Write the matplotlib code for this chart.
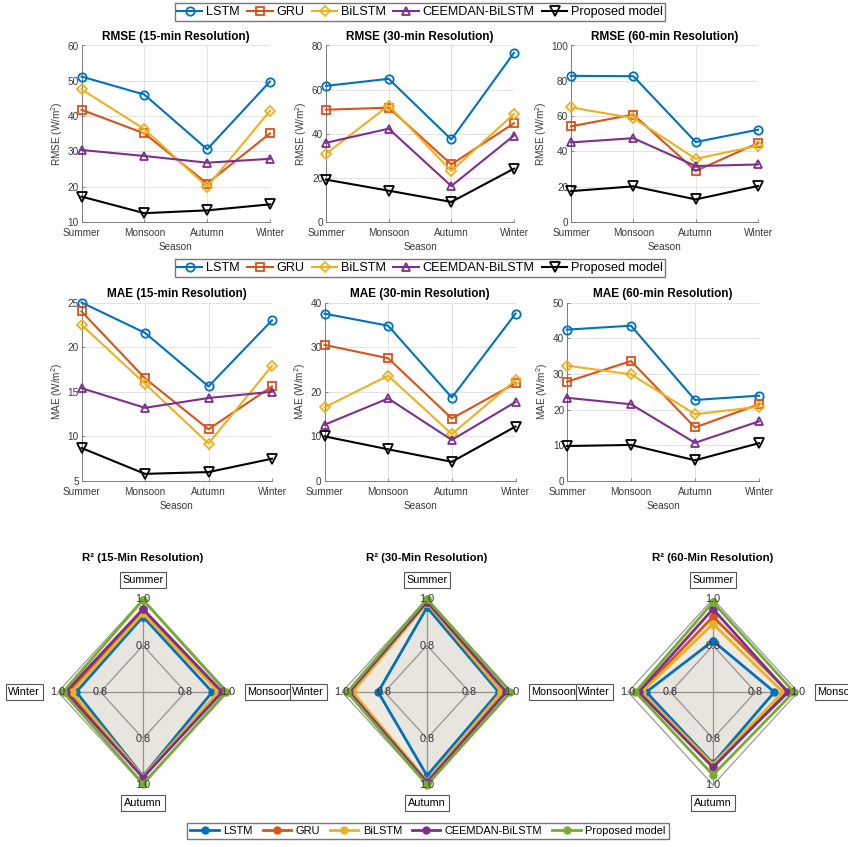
import numpy as np
import matplotlib.pyplot as plt
from matplotlib.lines import Line2D

plt.rcParams['font.family'] = ['Liberation Sans', 'DejaVu Sans']
plt.rcParams['mathtext.default'] = 'regular'

seasons = ['Summer', 'Monsoon', 'Autumn', 'Winter']
models = ['LSTM', 'GRU', 'BiLSTM', 'CEEMDAN-BiLSTM', 'Proposed model']

# rows follow the order of `models`, columns the order of `seasons`
rmse_15 = [[51.2, 46.1, 30.6, 49.8],
           [41.8, 35.1, 20.9, 35.1],
           [47.6, 36.3, 20.0, 41.5],
           [30.4, 28.7, 26.8, 27.9],
           [17.2, 12.5, 13.3, 15.0]]
rmse_30 = [[61.7, 64.9, 37.4, 76.7],
           [50.9, 51.8, 26.1, 44.8],
           [30.9, 52.8, 23.1, 49.0],
           [35.9, 42.3, 16.3, 39.2],
           [19.2, 14.2, 9.1, 24.2]]
rmse_60 = [[82.8, 82.6, 45.3, 52.3],
           [54.2, 60.9, 28.9, 44.7],
           [64.9, 58.9, 35.8, 43.2],
           [45.1, 47.5, 31.7, 32.6],
           [17.5, 20.2, 12.8, 20.4]]
mae_15 = [[25.0, 21.6, 15.6, 23.0],
          [24.0, 16.5, 10.8, 15.6],
          [22.5, 15.9, 9.2, 17.9],
          [15.4, 13.2, 14.3, 15.0],
          [8.7, 5.8, 6.0, 7.5]]
mae_30 = [[37.5, 34.8, 18.7, 37.5],
          [30.5, 27.5, 14.0, 21.9],
          [16.5, 23.6, 10.5, 22.6],
          [12.6, 18.5, 9.2, 17.7],
          [10.0, 7.1, 4.3, 12.2]]
mae_60 = [[42.4, 43.5, 22.7, 23.9],
          [27.8, 33.6, 15.0, 21.5],
          [32.3, 29.9, 18.7, 20.8],
          [23.3, 21.5, 10.7, 16.7],
          [9.8, 10.1, 5.8, 10.6]]

r2_15 = [[0.924, 0.926, 0.962, 0.914],
         [0.946, 0.960, 0.966, 0.953],
         [0.938, 0.953, 0.964, 0.936],
         [0.957, 0.973, 0.968, 0.964],
         [0.996, 0.992, 0.995, 0.976]]
r2_30 = [[0.964, 0.937, 0.960, 0.830],
         [0.985, 0.953, 0.985, 0.960],
         [0.982, 0.950, 0.982, 0.950],
         [0.988, 0.973, 0.988, 0.965],
         [1.000, 0.992, 1.000, 0.975]]
r2_60 = [[0.820, 0.889, 0.907, 0.914],
         [0.924, 0.956, 0.915, 0.940],
         [0.893, 0.929, 0.912, 0.935],
         [0.957, 0.951, 0.924, 0.950],
         [0.986, 0.980, 0.957, 0.965]]

line_colors = ['#0072BD', '#D95319', '#EDB120', '#7E2F8E', '#000000']
radar_colors = ['#0072BD', '#D95319', '#EDB120', '#7E2F8E', '#77AC30']
markers = ['o', 's', 'D', '^', 'v']
msizes = [6, 5.5, 5.5, 6, 6.5]

W, H = 848, 847
fig = plt.figure(figsize=(W / 100, H / 100), dpi=100)


def px_axes(x0, y0, x1, y1):
    return fig.add_axes([x0 / W, 1 - y1 / H, (x1 - x0) / W, (y1 - y0) / H])


def line_panel(box, data, title, ylabel, yticks):
    ax = px_axes(*box)
    x = np.arange(1, 5)
    for vals, c, m, ms in zip(data, line_colors, markers, msizes):
        ax.plot(x, vals, color=c, marker=m, ms=ms, mfc='none', mew=1.3, lw=1.5,
                clip_on=False, zorder=3)
    ax.set_xlim(1, 4)
    ax.set_ylim(yticks[0], yticks[-1])
    ax.set_xticks(x)
    ax.set_xticklabels(seasons)
    ax.set_yticks(yticks)
    ax.grid(True, color='#e3e3e3', lw=0.7)
    ax.set_axisbelow(True)
    for s in ['top', 'right']:
        ax.spines[s].set_visible(False)
    for s in ['left', 'bottom']:
        ax.spines[s].set_color('#7a7a7a')
        ax.spines[s].set_linewidth(0.7)
    ax.tick_params(direction='in', length=2.5, width=0.6, colors='#7a7a7a',
                   labelcolor='#3a3a3a', labelsize=7.2, pad=2)
    ax.tick_params(axis='x', pad=4.5)
    ax.set_title(title, fontsize=8.5, fontweight='bold', pad=4)
    ax.set_xlabel('Season', fontsize=7.2, color='#3a3a3a', labelpad=3)
    ax.set_ylabel(ylabel, fontsize=7.2, color='#3a3a3a', labelpad=2)
    return ax


rmse_label = 'RMSE (W/m$^2$)'
mae_label = 'MAE (W/m$^2$)'
line_panel((81.5, 45.5, 270, 222), rmse_15, 'RMSE (15-min Resolution)', rmse_label, [10, 20, 30, 40, 50, 60])
line_panel((326, 45.5, 514, 222), rmse_30, 'RMSE (30-min Resolution)', rmse_label, [0, 20, 40, 60, 80])
line_panel((571, 45.5, 758, 222), rmse_60, 'RMSE (60-min Resolution)', rmse_label, [0, 20, 40, 60, 80, 100])
line_panel((81.5, 302.5, 272, 481), mae_15, 'MAE (15-min Resolution)', mae_label, [5, 10, 15, 20, 25])
line_panel((324.5, 302.5, 515.5, 481), mae_30, 'MAE (30-min Resolution)', mae_label, [0, 10, 20, 30, 40])
line_panel((567, 302.5, 759, 481), mae_60, 'MAE (60-min Resolution)', mae_label, [0, 10, 20, 30, 40, 50])

line_handles = [Line2D([], [], color=c, marker=m, ms=ms, mfc='none', mew=1.3, lw=1.5)
                for c, m, ms in zip(line_colors, markers, msizes)]
for yc in (12, 268):
    fig.legend(line_handles, models, loc='center', bbox_to_anchor=(420 / W, 1 - yc / H),
               ncol=5, fontsize=9.1, frameon=True, fancybox=False, edgecolor='#555555',
               handlelength=2.0, handletextpad=0.3, columnspacing=0.6,
               borderpad=0.2, borderaxespad=0)

# spider panels: Summer up, Monsoon right, Autumn down, Winter left
dirs = np.array([[0, 1], [1, 0], [0, -1], [-1, 0]])
r_min, r_max = 0.6, 1.0
rx, ry = 85.0, 93.0
half = 140.0


def radar_panel(cx, data, title):
    cy = 692
    ax = px_axes(cx - half, cy - half, cx + half, cy + half)
    ax.set_xlim(-half / rx, half / rx)
    ax.set_ylim(-half / ry, half / ry)
    ax.axis('off')
    # grid diamonds and spokes
    for lev in (0.5, 1.0):
        gx = np.append(dirs[:, 0] * lev, dirs[0, 0] * lev)
        gy = np.append(dirs[:, 1] * lev, dirs[0, 1] * lev)
        ax.plot(gx, gy, color='#9a9a9a', lw=0.9, zorder=1)
    ax.plot([-1, 1], [0, 0], color='#9a9a9a', lw=0.9, zorder=1)
    ax.plot([0, 0], [-1, 1], color='#9a9a9a', lw=0.9, zorder=1)
    for vals, c in zip(data, radar_colors):
        r = (np.array(vals) - r_min) / (r_max - r_min)
        px = np.append(r * dirs[:, 0], r[0] * dirs[0, 0])
        py = np.append(r * dirs[:, 1], r[0] * dirs[0, 1])
        ax.fill(px, py, color=c, alpha=0.04, lw=0, zorder=2)
        ax.plot(px, py, color=c, lw=2, marker='o', ms=5, zorder=3)
    for d in dirs:
        for lev, txt in ((0.5, '0.8'), (1.0, '1.0')):
            ax.text(d[0] * lev, d[1] * lev, txt, ha='center', va='center',
                    fontsize=7.8, color='#333333', zorder=4)
    box = dict(boxstyle='square,pad=0.25', fc='white', ec='#555555', lw=0.8)
    ax.text(0, 1.15, 'Summer', ha='center', va='bottom', fontsize=7.8, bbox=box)
    ax.text(0, -1.14, 'Autumn', ha='center', va='top', fontsize=7.8, bbox=box)
    ax.text(1.23, 0, 'Monsoon', ha='left', va='center', fontsize=7.8, bbox=box)
    ax.text(-1.21, 0, 'Winter', ha='right', va='center', fontsize=7.8, bbox=box)
    fig.text(cx / W, 1 - 558 / H, title, ha='center', va='center',
             fontsize=8.2, fontweight='bold')


radar_panel(143, r2_15, 'R² (15-Min Resolution)')
radar_panel(427, r2_30, 'R² (30-Min Resolution)')
radar_panel(713, r2_60, 'R² (60-Min Resolution)')

radar_handles = [Line2D([], [], color=c, marker='o', ms=5, lw=2) for c in radar_colors]
fig.legend(radar_handles, models, loc='center', bbox_to_anchor=(428 / W, 1 - 831 / H),
           ncol=5, fontsize=7.9, frameon=True, fancybox=False, edgecolor='#555555',
           handlelength=2.6, handletextpad=0.4, columnspacing=0.9,
           borderpad=0.3, borderaxespad=0)

fig.savefig('out.png', dpi=100, facecolor='white')
